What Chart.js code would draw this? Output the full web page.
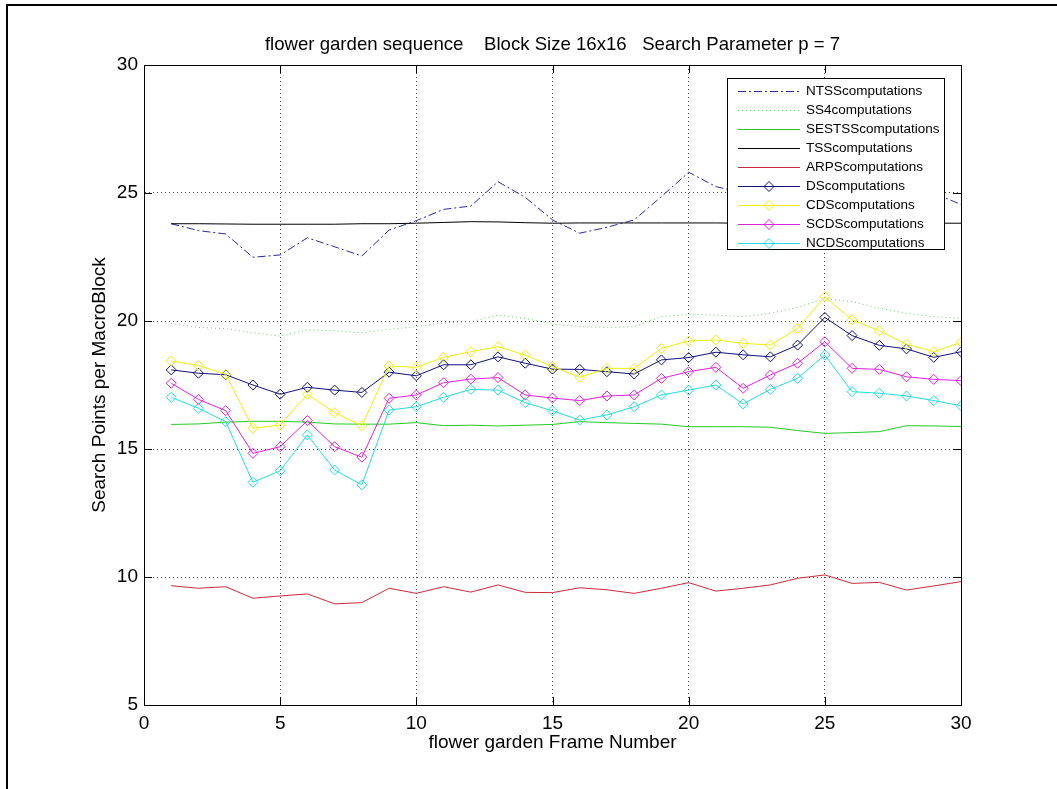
<!DOCTYPE html>
<html>
<head>
<meta charset="utf-8">
<script src="https://cdn.jsdelivr.net/npm/chart.js@4.4.0/dist/chart.umd.min.js"></script>
<style>
  html, body { margin: 0; padding: 0; background: #fff; }
  #wrap { width: 1057px; height: 789px; position: relative; }
</style>
</head>
<body>
<div id="wrap"><canvas id="c" width="1057" height="789"></canvas></div>
<script>
// ---- data ----
const frames = [1,2,3,4,5,6,7,8,9,10,11,12,13,14,15,16,17,18,19,20,21,22,23,24,25,26,27,28,29,30];
const seriesNames = ['NTSScomputations','SS4computations','SESTSScomputations','TSScomputations','ARPScomputations','DScomputations','CDScomputations','SCDScomputations','NCDScomputations'];
const ntss   = [23.8,23.53,23.4,22.49,22.58,23.25,22.9,22.54,23.55,23.92,24.36,24.49,25.44,24.83,23.95,23.43,23.66,23.95,24.86,25.81,25.25,25.0,25.1,24.9,25.2,25.0,24.9,25.1,25.0,24.55];
const ss4    = [19.9,19.75,19.7,19.54,19.41,19.65,19.62,19.54,19.67,19.78,19.93,19.97,20.23,20.1,19.88,19.78,19.75,19.78,20.17,20.26,20.23,20.17,20.3,20.53,20.88,20.75,20.5,20.3,20.17,20.1];
const sestss = [15.96,15.98,16.05,16.08,16.08,16.05,15.98,15.97,15.97,16.03,15.91,15.93,15.9,15.93,15.96,16.07,16.03,16.0,15.97,15.87,15.87,15.87,15.85,15.72,15.61,15.64,15.68,15.91,15.9,15.88];
const tss    = [23.8,23.8,23.79,23.78,23.78,23.78,23.78,23.8,23.8,23.82,23.85,23.88,23.87,23.84,23.82,23.83,23.83,23.83,23.83,23.83,23.83,23.82,23.82,23.82,23.82,23.82,23.82,23.82,23.82,23.82];
const arps   = [9.66,9.56,9.62,9.17,9.26,9.34,8.95,9.0,9.56,9.36,9.62,9.41,9.69,9.4,9.39,9.58,9.5,9.36,9.56,9.78,9.45,9.56,9.69,9.95,10.08,9.75,9.79,9.49,9.65,9.82];
const ds     = [18.09,17.96,17.9,17.5,17.14,17.41,17.3,17.21,18.0,17.86,18.29,18.29,18.6,18.35,18.12,18.11,18.02,17.93,18.48,18.57,18.78,18.68,18.6,19.06,20.14,19.43,19.05,18.91,18.58,18.8];
const cds    = [18.44,18.26,17.92,15.81,15.94,17.14,16.42,15.91,18.24,18.19,18.58,18.8,19.0,18.67,18.22,17.8,18.15,18.15,18.93,19.22,19.26,19.13,19.06,19.71,20.95,20.04,19.62,19.09,18.8,19.17];
const scds   = [17.57,16.94,16.5,14.83,15.09,16.11,15.09,14.68,16.98,17.11,17.59,17.73,17.79,17.11,16.99,16.89,17.07,17.11,17.76,18.02,18.19,17.37,17.89,18.35,19.19,18.15,18.11,17.82,17.72,17.67];
const ncds   = [17.02,16.59,16.07,13.7,14.15,15.55,14.18,13.6,16.52,16.65,17.02,17.33,17.3,16.81,16.49,16.13,16.33,16.65,17.11,17.3,17.5,16.76,17.33,17.76,18.67,17.24,17.18,17.07,16.89,16.69];
const xTicks = [0,5,10,15,20,25,30];
const yTicks = [5,10,15,20,25,30];
const titleText = 'flower garden sequence    Block Size 16x16   Search Parameter p = 7';
const xLabel = 'flower garden Frame Number';
const yLabel = 'Search Points per MacroBlock';

// ---- styles ----
const allValues = [ntss, ss4, sestss, tss, arps, ds, cds, scds, ncds];
const colors = ['#2a2aa0','#66cc66','#22cc22','#000000','#cc2a3a','#12127a','#eeee10','#dd22dd','#22dddd'];
const dashes = [[8,3,2,3],[1,3],[],[],[],[],[],[],[]];
const markers = [false,false,false,false,false,true,true,true,true];

const FONT = "'Liberation Sans', Arial, sans-serif";

const datasets = allValues.map((vals, i) => ({
  label: seriesNames[i],
  data: frames.map((f, k) => ({x: f, y: vals[k]})),
  borderColor: colors[i],
  backgroundColor: colors[i],
  borderWidth: 1,
  borderDash: dashes[i],
  pointStyle: 'rectRot',
  pointRadius: markers[i] ? 5 : 0,
  pointHoverRadius: markers[i] ? 5 : 0,
  pointBorderColor: colors[i],
  pointBackgroundColor: 'rgba(0,0,0,0)',
  pointBorderWidth: 1,
  tension: 0,
  order: allValues.length - 1 - i
}));

const framePlugin = {
  id: 'frame',
  beforeDraw(chart) {
    const ctx = chart.ctx;
    ctx.save();
    ctx.fillStyle = '#fff';
    ctx.fillRect(0, 0, chart.width, chart.height);
    ctx.strokeStyle = '#000';
    ctx.lineWidth = 2;
    ctx.beginPath();
    ctx.moveTo(7, 789); ctx.lineTo(7, 5); ctx.lineTo(1057, 5);
    ctx.stroke();
    // title, centred over the plot area
    const a = chart.chartArea;
    ctx.fillStyle = '#000';
    ctx.font = '18.6px ' + FONT;
    ctx.textAlign = 'center';
    ctx.textBaseline = 'middle';
    ctx.fillText(titleText, (a.left + a.right) / 2, 45);
    ctx.restore();
  },
  afterDatasetsDraw(chart) {
    const ctx = chart.ctx;
    const a = chart.chartArea;
    const xs = chart.scales.x, ys = chart.scales.y;
    ctx.save();
    // box
    ctx.strokeStyle = '#000';
    ctx.lineWidth = 1;
    ctx.setLineDash([]);
    ctx.strokeRect(Math.round(a.left) + 0.5, Math.round(a.top) + 0.5, Math.round(a.right - a.left), Math.round(a.bottom - a.top));
    // inner ticks on all four sides
    const tl = 8;
    ctx.beginPath();
    xs.ticks.forEach(t => {
      const px = Math.round(xs.getPixelForValue(t.value)) + 0.5;
      ctx.moveTo(px, a.bottom); ctx.lineTo(px, a.bottom - tl);
      ctx.moveTo(px, a.top); ctx.lineTo(px, a.top + tl);
    });
    ys.ticks.forEach(t => {
      const py = Math.round(ys.getPixelForValue(t.value)) + 0.5;
      ctx.moveTo(a.left, py); ctx.lineTo(a.left + tl, py);
      ctx.moveTo(a.right, py); ctx.lineTo(a.right - tl, py);
    });
    ctx.stroke();

    // legend box
    const lx = 727.5, ly = 78.5, lw = 217, lh = 171;
    ctx.fillStyle = '#fff';
    ctx.fillRect(lx, ly, lw, lh);
    ctx.strokeStyle = '#000';
    ctx.strokeRect(lx, ly, lw, lh);
    ctx.font = '13.5px ' + FONT;
    ctx.textBaseline = 'middle';
    ctx.textAlign = 'left';
    seriesNames.forEach((name, i) => {
      const y = Math.round(91 + 19 * i) + 0.5;
      ctx.strokeStyle = colors[i];
      ctx.lineWidth = 1;
      ctx.setLineDash(dashes[i]);
      ctx.beginPath();
      ctx.moveTo(738, y); ctx.lineTo(800, y);
      ctx.stroke();
      ctx.setLineDash([]);
      if (markers[i]) {
        const r = 5, cx = 769;
        ctx.beginPath();
        ctx.moveTo(cx - r, y); ctx.lineTo(cx, y - r); ctx.lineTo(cx + r, y); ctx.lineTo(cx, y + r);
        ctx.closePath();
        ctx.stroke();
      }
      ctx.fillStyle = '#000';
      ctx.fillText(name, 806, y);
    });
    ctx.restore();
  }
};

new Chart(document.getElementById('c'), {
  type: 'line',
  data: { datasets },
  plugins: [framePlugin],
  options: {
    responsive: false,
    animation: false,
    events: [],
    layout: { padding: { left: 0, top: 65, right: 96, bottom: 0 } },
    plugins: {
      legend: { display: false },
      tooltip: { enabled: false },
      title: { display: false }
    },
    scales: {
      x: {
        type: 'linear',
        min: 0, max: 30,
        afterFit(s) { s.height = 84; },
        afterBuildTicks(s) { s.ticks = xTicks.map(v => ({value: v})); },
        grid: { color: '#444', lineWidth: 1, drawTicks: false },
        border: { display: true, color: '#000', dash: [1, 3] },
        ticks: { color: '#000', padding: 7, font: { family: FONT, size: 19 }, maxRotation: 0 },
        title: { display: true, text: xLabel, color: '#000', font: { family: FONT, size: 19 }, padding: { top: 0, bottom: 34.6 } }
      },
      y: {
        type: 'linear',
        min: 5, max: 30,
        afterFit(s) { s.width = 144; },
        afterBuildTicks(s) { s.ticks = yTicks.map(v => ({value: v})); },
        grid: { color: '#444', lineWidth: 1, drawTicks: false },
        border: { display: true, color: '#000', dash: [1, 3] },
        ticks: { color: '#000', padding: 6, font: { family: FONT, size: 19 } },
        title: { display: true, text: yLabel, color: '#000', font: { family: FONT, size: 19 }, padding: { top: 88.6, bottom: 0 } }
      }
    }
  }
});
</script>
</body>
</html>
